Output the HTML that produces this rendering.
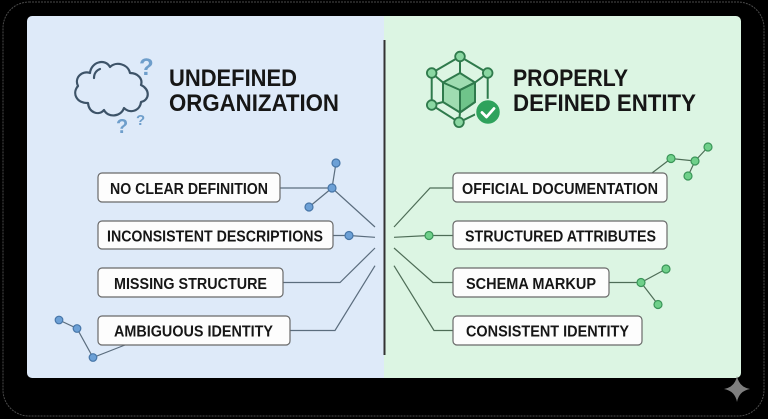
<!DOCTYPE html>
<html><head><meta charset="utf-8"><style>
html,body{margin:0;padding:0;background:#000;width:768px;height:419px;overflow:hidden}
svg{display:block}
text{font-family:"Liberation Sans",Arial,sans-serif;font-weight:bold;fill:#161616}
</style></head><body>
<svg width="768" height="419" viewBox="0 0 768 419" xmlns="http://www.w3.org/2000/svg">
<rect x="0" y="0" width="768" height="419" fill="#000"/>
<rect x="3" y="2" width="761" height="414" rx="26" fill="none" stroke="#4a4a4a" stroke-width="1" stroke-dasharray="2 1"/>
<!-- card -->
<path d="M32 16 H384 V378 H32 a5 5 0 0 1 -5 -5 V21 a5 5 0 0 1 5 -5z" fill="#deeaf9"/>
<path d="M384 16 H736 a5 5 0 0 1 5 5 V373 a5 5 0 0 1 -5 5 H384z" fill="#dcf5e3"/>
<line x1="384.5" y1="40" x2="384.5" y2="355" stroke="#333" stroke-width="2"/>

<!-- cloud icon -->
<g fill="none" stroke="#3d5368" stroke-width="2.2" stroke-linecap="round" stroke-linejoin="round">
<path d="M88 103 C76 103 72 93 78 86 C74 78 82 70 90 73 C91 62 105 58 110 67 C116 61 128 64 130 73 C138 73 143 79 141 85 C150 89 150 100 141 102 C140 111 130 114 124 108 C121 117 108 118 104 110 C99 116 89 113 88 103 Z"/>
<path d="M94 78 C94 73 97 70 100 69"/>
</g>
<text x="139" y="75" font-size="24" style="fill:#6e9ecb">?</text>
<text x="116" y="133" font-size="20" style="fill:#6e9ecb">?</text>
<text x="136" y="125" font-size="15" style="fill:#6e9ecb">?</text>

<text x="169" y="86" font-size="24.5" textLength="128" lengthAdjust="spacingAndGlyphs">UNDEFINED</text>
<text x="169" y="111" font-size="24.5" textLength="170" lengthAdjust="spacingAndGlyphs">ORGANIZATION</text>

<!-- cube icon -->
<g stroke="#2f7a4c" stroke-width="2" fill="none" stroke-linejoin="round">
<polygon points="460,73 475,82.5 475,102 460,112.5 443,102 443,82.5" fill="#9fdcb1"/>
<polygon points="460,90 475,82.5 475,102 460,112.5" fill="#6fc48a"/>
<polyline points="443,82.5 460,90 475,82.5"/>
<line x1="460" y1="90" x2="460" y2="112.5"/>
<polyline points="431.7,105 431.7,73 460,56.5 487.7,73 487.7,100"/>
<polyline points="431.7,105 459,122.3 476,114"/>
<line x1="460" y1="56.5" x2="460" y2="73"/>
<line x1="431.7" y1="73" x2="443" y2="82.5"/>
<line x1="487.7" y1="73" x2="475" y2="82.5"/>
<line x1="431.7" y1="105" x2="443" y2="102"/>
<line x1="459" y1="122.3" x2="460" y2="112.5"/>
</g>
<g fill="#8ad7a2" stroke="#2f7a4c" stroke-width="1.8">
<circle cx="460" cy="56.5" r="4.8"/><circle cx="431.7" cy="73" r="4.8"/><circle cx="487.7" cy="73" r="4.8"/>
<circle cx="431.7" cy="105" r="4.8"/><circle cx="459" cy="122.3" r="4.8"/>
</g>
<circle cx="488" cy="112" r="12.5" fill="#2ea25c" stroke="#dcf5e3" stroke-width="1.5"/>
<polyline points="482,112.5 486.5,117 494,108.5" fill="none" stroke="#fff" stroke-width="2.8" stroke-linecap="round" stroke-linejoin="round"/>

<text x="513" y="86" font-size="24.5" textLength="115" lengthAdjust="spacingAndGlyphs">PROPERLY</text>
<text x="513" y="111" font-size="24.5" textLength="183" lengthAdjust="spacingAndGlyphs">DEFINED ENTITY</text>

<!-- left connectors -->
<g stroke="#5b6d7e" stroke-width="1.2" fill="none">
<polyline points="280,188 332,188 375,227"/>
<line x1="332" y1="188" x2="336" y2="163"/>
<line x1="332" y1="188" x2="309" y2="207"/>
<polyline points="333,235.5 349,235.5 375,237.3"/>
<polyline points="283,282.5 340,282.5 375,248"/>
<polyline points="290,330.5 335,330.5 375,265.7"/>
<polyline points="59,320 77,328.5 93,357.5 125,345"/>
</g>
<g fill="#6ca0d6" stroke="#4776a8" stroke-width="1.2">
<circle cx="332" cy="188" r="4"/><circle cx="336" cy="163" r="4"/><circle cx="309" cy="207" r="4"/>
<circle cx="349" cy="235.5" r="4"/>
<circle cx="59" cy="320" r="3.8"/><circle cx="77" cy="328.5" r="3.8"/><circle cx="93" cy="357.5" r="3.8"/>
</g>

<!-- right connectors -->
<g stroke="#4e6d57" stroke-width="1.2" fill="none">
<polyline points="394,227 430,188 453,188"/>
<polyline points="394,237.3 429,235.5 453,235.5"/>
<polyline points="394,248 433,282.5 453,282.5"/>
<polyline points="394,265.7 434,330.5 453,330.5"/>
<polyline points="652,173 671,158.5 695,161 708,147"/>
<line x1="695" y1="161" x2="688" y2="176"/>
<polyline points="609,282.5 641,282.5 666,269"/>
<line x1="641" y1="282.5" x2="658" y2="304.5"/>
</g>
<g fill="#6fd08a" stroke="#3a9558" stroke-width="1.2">
<circle cx="429" cy="235.5" r="4"/>
<circle cx="671" cy="158.5" r="4"/><circle cx="695" cy="161" r="4"/><circle cx="708" cy="147" r="4"/><circle cx="688" cy="176" r="4"/>
<circle cx="641" cy="282.5" r="4"/><circle cx="666" cy="269" r="4"/><circle cx="658" cy="304.5" r="4"/>
</g>

<!-- boxes -->
<g fill="#fdfdfd" stroke="#6a6a6a" stroke-width="1.2">
<rect x="98" y="173" width="182" height="29" rx="4"/>
<rect x="98" y="221" width="235" height="28" rx="4"/>
<rect x="98" y="268" width="185" height="29" rx="4"/>
<rect x="98" y="316" width="192" height="29" rx="4"/>
<rect x="453" y="173" width="214" height="29" rx="4"/>
<rect x="453" y="221" width="214" height="28" rx="4"/>
<rect x="453" y="268" width="156" height="29" rx="4"/>
<rect x="453" y="316" width="189" height="29" rx="4"/>
</g>
<g font-size="15.5">
<text x="110" y="194" textLength="158" lengthAdjust="spacingAndGlyphs">NO CLEAR DEFINITION</text>
<text x="107" y="241.5" textLength="216" lengthAdjust="spacingAndGlyphs">INCONSISTENT DESCRIPTIONS</text>
<text x="114" y="289" textLength="153" lengthAdjust="spacingAndGlyphs">MISSING STRUCTURE</text>
<text x="114" y="336.7" textLength="159" lengthAdjust="spacingAndGlyphs">AMBIGUOUS IDENTITY</text>
<text x="462" y="194" textLength="196" lengthAdjust="spacingAndGlyphs">OFFICIAL DOCUMENTATION</text>
<text x="465" y="241.5" textLength="191" lengthAdjust="spacingAndGlyphs">STRUCTURED ATTRIBUTES</text>
<text x="466" y="289" textLength="130" lengthAdjust="spacingAndGlyphs">SCHEMA MARKUP</text>
<text x="466" y="336.7" textLength="163" lengthAdjust="spacingAndGlyphs">CONSISTENT IDENTITY</text>
</g>

<!-- sparkle -->
<path d="M737 376 Q739 387 750 389 Q739 391 737 402 Q735 391 724 389 Q735 387 737 376Z" fill="#7e7e7e"/>
</svg>
</body></html>
